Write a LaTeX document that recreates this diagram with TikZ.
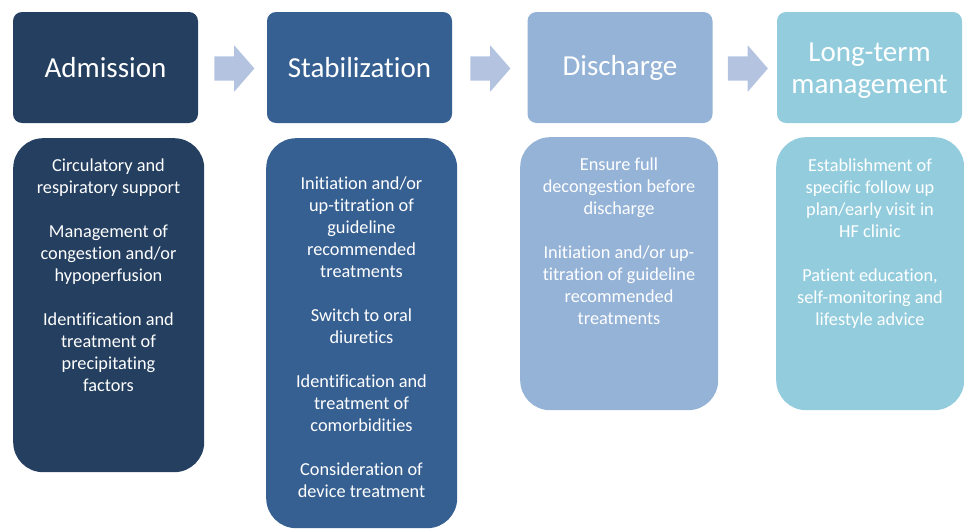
\documentclass[tikz,border=0pt]{standalone}
\usepackage{fontspec}
\setmainfont[Ligatures=NoCommon]{Carlito}
\usetikzlibrary{shapes.arrows,calc}
\definecolor{cA}{HTML}{243F60}
\definecolor{cB}{HTML}{376092}
\definecolor{cC}{HTML}{95B3D7}
\definecolor{cD}{HTML}{93CDDD}
\definecolor{cArr}{HTML}{B4C4E0}
\tikzset{
  head/.style={rectangle, rounded corners=9pt, minimum width=185pt, minimum height=111pt,
    inner sep=0pt, text=white, align=center, font=\fontsize{29}{32}\selectfont},
  bodybox/.style={rectangle, rounded corners=30pt, inner sep=0pt, anchor=north west},
  bodytext/.style={text=white, align=center, anchor=north, inner sep=0pt,
    font=\fontsize{18.3}{22}\selectfont},
  blockarrow/.style={single arrow, fill=cArr, draw=none, inner sep=12pt,
    single arrow head extend=11pt, single arrow tip angle=98, minimum height=40pt,
    anchor=tail}
}
\begin{document}
\begin{tikzpicture}[x=1pt,y=-1pt]
\useasboundingbox (0,0) rectangle (964,530);
% headers
\node[head, fill=cA] (h1) at (105.5,67.5) {Admission};
\node[head, fill=cB] (h2) at (359.5,67.5) {Stabilization};
\node[head, fill=cC] (h3) at (620,67.5) {Discharge};
\node[head, fill=cD] (h4) at (869.5,67.5) {\rule{0pt}{24pt}Long-term\\management};
% arrows
\node[blockarrow] (a1) at ($(h1.east)+(16,1)$) {};
\node[blockarrow] (a2) at ($(h2.east)+(18,1)$) {};
\node[blockarrow] (a3) at ($(h3.east)+(15,1)$) {};
% body boxes
\node[bodybox, fill=cA, minimum width=191pt, minimum height=334pt] (b1) at (13,138) {};
\node[bodybox, fill=cB, minimum width=191pt, minimum height=390pt] (b2) at (266,138) {};
\node[bodybox, fill=cC, minimum width=198pt, minimum height=273pt] (b3) at (520,137) {};
\node[bodybox, fill=cD, minimum width=188pt, minimum height=273pt] (b4) at (776,137) {};
% body texts
\node[bodytext] (t1) at (108.5,158.5) {Circulatory and\\respiratory support\\[22pt]Management of\\congestion and/or\\hypoperfusion\\[22pt]Identification and\\treatment of\\precipitating\\factors};
\node[bodytext] (t2) at (361.5,176.5) {Initiation and/or\\up-titration of\\guideline\\recommended\\treatments\\[22pt]Switch to oral\\diuretics\\[22pt]Identification and\\treatment of\\comorbidities\\[22pt]Consideration of\\device treatment};
\node[bodytext] (t3) at (619,157.5) {Ensure full\\decongestion before\\discharge\\[22pt]Initiation and/or up-\\titration of guideline\\recommended\\treatments};
\node[bodytext] (t4) at (870,158.5) {Establishment of\\specific follow up\\plan/early visit in\\HF clinic\\[22pt]Patient education,\\self-monitoring and\\lifestyle advice};
\end{tikzpicture}
\end{document}
